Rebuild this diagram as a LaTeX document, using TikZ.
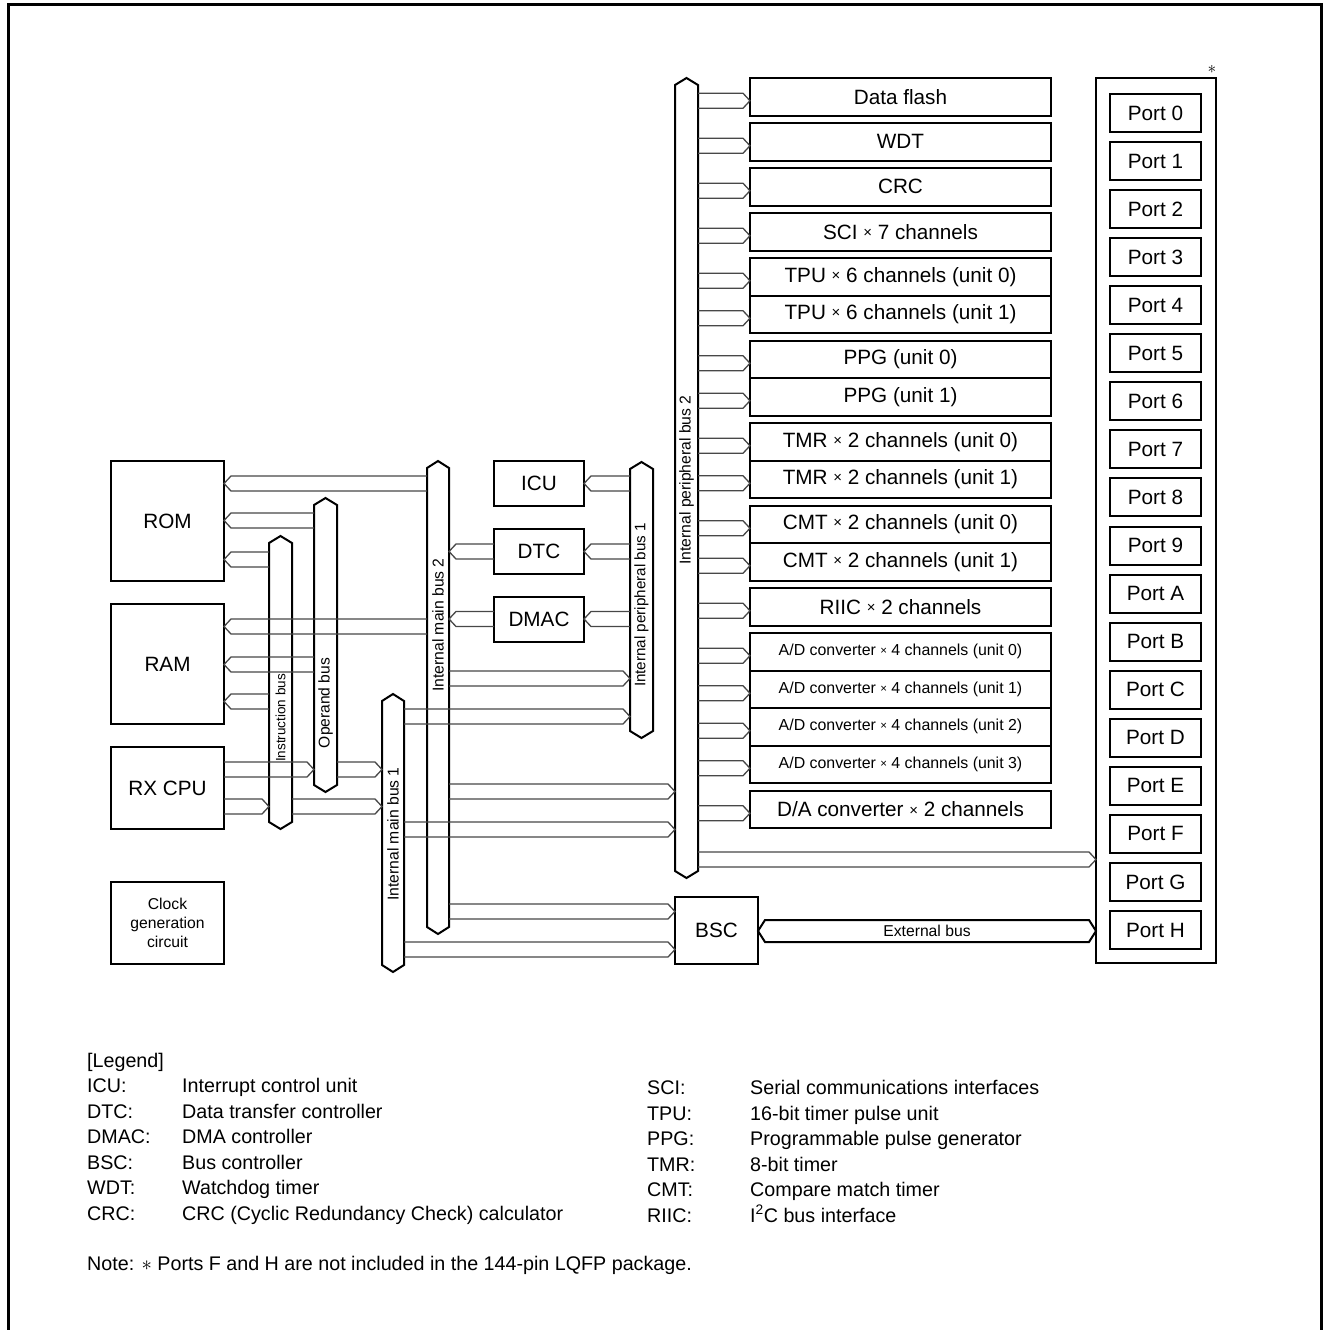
\documentclass[tikz,border=0pt]{standalone}
\usepackage{fontspec}
\setmainfont{Liberation Sans}
\usetikzlibrary{calc}
\newcommand\tms{\raisebox{0.08em}{\scalebox{0.72}{×}}}
\tikzset{
  box/.style={draw, line width=2pt, inner sep=0pt, outer sep=0pt, font=\fontsize{20.7}{24}\selectfont},
  conn/.style={line width=1.3pt, black!72, line join=miter},
  busline/.style={draw, line width=2pt, line join=miter},
  buslab/.style={rotate=90, inner sep=0pt},
  legtext/.style={anchor=base west, inner sep=0pt, font=\fontsize{19.7}{23}\selectfont},
}
% double-line bus connector: open end at #1, chevron tip at #2, centre line at y=#3
\newcommand\barrow[3]{%
  \coordinate (bs) at (#1 |- 0,{#3});
  \coordinate (bt) at (#2 |- 0,{#3});
  \coordinate (bk) at ($(bt)!7pt!(bs)$);
  \draw[conn] ([yshift=7.5pt]bs) -- ([yshift=7.5pt]bk) -- (bt) -- ([yshift=-7.5pt]bk) -- ([yshift=-7.5pt]bs);}
% vertical bus: name, x1, x2, top apex, bottom apex
\newcommand\vbus[5]{%
  \draw[busline] ({(#2+#3)/2},#4) -- (#3,#4+7) -- (#3,#5-7) -- ({(#2+#3)/2},#5) -- (#2,#5-7) -- (#2,#4+7) -- cycle;
  \node[inner sep=0pt, outer sep=0pt, minimum width={(#3-(#2))*1pt}, minimum height={(#5-(#4)-14)*1pt}] (#1) at ({(#2+#3)/2},{(#4+#5)/2}) {};}
\begin{document}
\begin{tikzpicture}[x=1pt,y=-1pt]
\useasboundingbox (0,0) rectangle (1324,1330);
\draw[line width=3pt] (8,1335) -- (8,5) -- (1321,5) -- (1321,1335);

% ---------- left blocks
\node[box, minimum width=113pt, minimum height=120pt] (rom) at (167.5,521) {ROM};
\node[box, minimum width=113pt, minimum height=120pt] (ram) at (167.5,664) {RAM};
\node[box, minimum width=113pt, minimum height=82pt] (cpu) at (167.5,788) {RX CPU};
\node[box, minimum width=113pt, minimum height=82pt, align=center, font=\fontsize{15.7}{19}\selectfont] (clk) at (167.5,923) {Clock\\generation\\circuit};

% ---------- buses
\vbus{ib}{269}{292}{536}{829}
\vbus{ob}{314}{337}{498}{792}
\vbus{mb1}{382}{404}{694}{972}
\vbus{mb2}{427}{449}{461}{934}
\vbus{pb1}{630}{653}{462}{738}
\vbus{pb2}{675}{698}{78}{878}

\node[buslab, font=\fontsize{13.5}{16}\selectfont] (ibl) at (280.5,718) {Instruction bus};
\node[buslab, font=\fontsize{15.6}{18}\selectfont] (obl) at (325.5,703) {Operand bus};
\node[buslab, font=\fontsize{15.7}{18}\selectfont] (mb2l) at (438,625) {Internal main bus 2};
\node[buslab, font=\fontsize{15.7}{18}\selectfont] (mb1l) at (393,834) {Internal main bus 1};
\node[buslab, font=\fontsize{15.2}{18}\selectfont] (pb1l) at (641.5,605) {Internal peripheral bus 1};
\node[buslab, font=\fontsize{15.7}{18}\selectfont] (pb2l) at (686.5,480) {Internal peripheral bus 2};

% ---------- middle blocks
\node[box, minimum width=90pt, minimum height=45pt] (icu) at (539,483.5) {ICU};
\node[box, minimum width=90pt, minimum height=45pt] (dtc) at (539,551.5) {DTC};
\node[box, minimum width=90pt, minimum height=45pt] (dmac) at (539,619.5) {DMAC};
\node[box, minimum width=83pt, minimum height=67pt] (bsc) at (716.5,930.5) {BSC};

% ---------- ports
\node[box, minimum width=120pt, minimum height=885pt] (portbox) at (1156,520.5) {};
\node[inner sep=0pt, font=\fontsize{18}{20}\selectfont] (star) at (1212,69) {$\ast$};
\foreach \lab [count=\i from 0] in {0,1,2,3,4,5,6,7,8,9,A,B,C,D,E,F,G,H}{
  \node[box, minimum width=91pt, minimum height=38pt] (port\lab) at (1155.5,{113+48.06*\i}) {Port \lab};
}

% ---------- peripheral blocks
\foreach \nm/\ya/\yb/\tx in {
  df/78/115.5/{Data flash},
  wdt/123/160.5/{WDT},
  crc/168/205.5/{CRC},
  sci/213/250.5/{SCI \tms{} 7 channels},
  tpua/258/295.5/{TPU \tms{} 6 channels (unit 0)},
  tpub/295.5/333/{TPU \tms{} 6 channels (unit 1)},
  ppga/340.5/378/{PPG (unit 0)},
  ppgb/378/415.5/{PPG (unit 1)},
  tmra/423/460.5/{TMR \tms{} 2 channels (unit 0)},
  tmrb/460.5/498/{TMR \tms{} 2 channels (unit 1)},
  cmta/505.5/543/{CMT \tms{} 2 channels (unit 0)},
  cmtb/543/580.5/{CMT \tms{} 2 channels (unit 1)},
  riic/588/625.5/{RIIC \tms{} 2 channels},
  da/790.5/828/{D/A converter \tms{} 2 channels}}{
  \node[box, minimum width=301pt, minimum height={(\yb-\ya)*1pt}] (\nm) at (900.5,{(\ya+\yb)/2}) {\tx};
  \barrow{pb2.east}{\nm.west}{(\ya+\yb)/2+4}
}
\foreach \nm/\ya/\yb/\u in {ada/633/670.5/0, adb/670.5/708/1, adc/708/745.5/2, add/745.5/783/3}{
  \node[box, minimum width=301pt, minimum height={(\yb-\ya)*1pt}, font=\fontsize{15.9}{18}\selectfont] (\nm) at (900.5,{(\ya+\yb)/2}) {A/D converter \tms{} 4 channels (unit \u)};
  \barrow{pb2.east}{\nm.west}{(\ya+\yb)/2+4}
}

% ---------- connectors, left part
\barrow{mb2.west}{rom.east}{483.5}
\barrow{ob.west}{rom.east}{520.5}
\barrow{ib.west}{rom.east}{559.5}
\barrow{mb2.west}{ram.east}{626.5}
\barrow{ob.west}{ram.east}{664.5}
\barrow{ib.west}{ram.east}{701.5}
\barrow{cpu.east}{ob.west}{769.5}
\barrow{ob.east}{mb1.west}{769.5}
\barrow{cpu.east}{ib.west}{806.5}
\barrow{ib.east}{mb1.west}{806.5}
% middle
\barrow{dtc.west}{mb2.east}{551.5}
\barrow{dmac.west}{mb2.east}{619}
\barrow{pb1.west}{icu.east}{483.5}
\barrow{pb1.west}{dtc.east}{551.5}
\barrow{pb1.west}{dmac.east}{619}
\barrow{mb2.east}{pb1.west}{678.5}
\barrow{mb1.east}{pb1.west}{716.5}
\barrow{mb2.east}{pb2.west}{791.5}
\barrow{mb1.east}{pb2.west}{829.5}
\barrow{mb2.east}{bsc.west}{911.5}
\barrow{mb1.east}{bsc.west}{949.5}
\barrow{pb2.east}{portbox.west}{859.5}

% ---------- external bus
\coordinate (ebl) at (bsc.east |- 0,931);
\coordinate (ebr) at (portbox.west |- 0,931);
\draw[busline] (ebl) -- ($(ebl)+(7,-11)$) -- ($(ebr)+(-7,-11)$) -- (ebr) -- ($(ebr)+(-7,11)$) -- ($(ebl)+(7,11)$) -- cycle;
\node[inner sep=0pt, font=\fontsize{15.7}{18}\selectfont] (ebt) at ($(ebl)!0.5!(ebr)$) {External bus};

% ---------- legend
\node[legtext] (lg) at (87,1067) {[Legend]};
\foreach \ab/\de [count=\i from 0] in {
  ICU:/Interrupt control unit,
  DTC:/Data transfer controller,
  DMAC:/DMA controller,
  BSC:/Bus controller,
  WDT:/Watchdog timer,
  CRC:/CRC (Cyclic Redundancy Check) calculator}{
  \node[legtext] (la\i) at (87,{1092.5+25.5*\i}) {\ab};
  \node[legtext] (ld\i) at (182,{1092.5+25.5*\i}) {\de};
}
\foreach \ab/\de [count=\i from 0] in {
  SCI:/Serial communications interfaces,
  TPU:/16-bit timer pulse unit,
  PPG:/Programmable pulse generator,
  TMR:/8-bit timer,
  CMT:/Compare match timer,
  RIIC:/I\textsuperscript{2}C bus interface}{
  \node[legtext] (ra\i) at (647,{1094.5+25.5*\i}) {\ab};
  \node[legtext] (rd\i) at (750,{1094.5+25.5*\i}) {\de};
}
\node[legtext] (note) at (87,1270) {Note: $\ast$ Ports F and H are not included in the 144-pin LQFP package.};
\end{tikzpicture}
\end{document}
